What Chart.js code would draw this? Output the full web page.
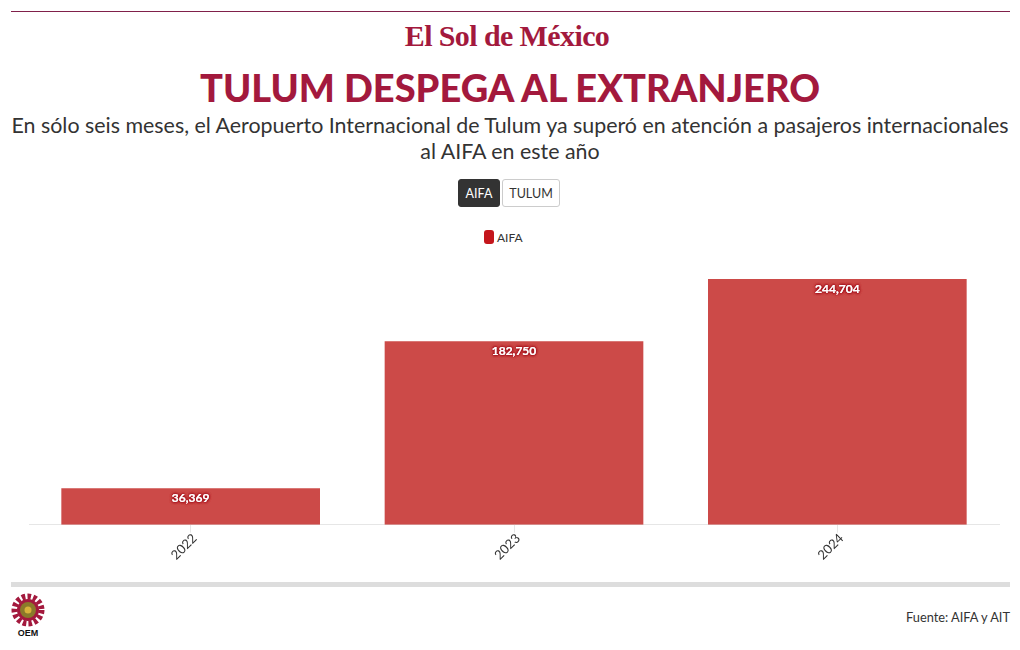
<!DOCTYPE html>
<html>
<head>
<meta charset="utf-8">
<title>Tulum despega al extranjero</title>
<script src="https://cdn.jsdelivr.net/npm/chart.js"></script>
<style>
  body { margin: 0; background: #fff; font-family: "Lato", sans-serif; color: #333; }
  #page { position: relative; width: 1020px; height: 650px; overflow: hidden; }
  #page > * { position: absolute; }
  #topline { left: 11px; top: 11px; width: 999px; height: 1px; background: #80204a; }
  #brand { left: 0; width: 1014px; top: 14px; text-align: center; font: bold 30px/44px "Liberation Serif", serif; letter-spacing: -0.6px; color: #a3193d; }
  h1 { left: 0; width: 1020px; top: 63px; margin: 0; text-align: center; font: 900 38px/48px "Lato", sans-serif; color: #a3193d; }
  #sub { left: 0; width: 1020px; top: 112px; margin: 0; text-align: center; white-space: nowrap; font: 21.4px/26px "Lato", sans-serif; color: #333; }
  .btn { top: 179px; height: 28px; box-sizing: border-box; border: 1px solid #ccc; border-radius: 3px; background: #fff; color: #333; font: 12.5px "Lato", sans-serif; padding: 0; }
  #btnA { left: 458px; width: 42px; background: #333; border-color: #333; color: #fff; }
  #btnT { left: 502px; width: 58px; }
  #legend { left: 484px; top: 230px; height: 14px; font: 12px/15px "Lato", sans-serif; color: #333; white-space: nowrap; }
  #legend i { display: inline-block; width: 10px; height: 14px; border-radius: 3px; background: #c4161c; vertical-align: top; margin-right: 3px; }
  #myChart { left: 0; top: 250px; }
  #bottomline { left: 11px; top: 582px; width: 999px; height: 5px; background: #ddd; }
  #emblem { left: 10px; top: 592px; }
  #source { right: 10px; top: 609px; font: 12.8px "Lato", sans-serif; color: #333; }
</style>
</head>
<body>
<div id="page">
  <div id="topline"></div>
  <div id="brand">El Sol de México</div>
  <h1>TULUM DESPEGA AL EXTRANJERO</h1>
  <p id="sub">En sólo seis meses, el Aeropuerto Internacional de Tulum ya superó en atención a pasajeros internacionales<br>al AIFA en este año</p>
  <button class="btn" id="btnA">AIFA</button>
  <button class="btn" id="btnT">TULUM</button>
  <div id="legend"><i></i>AIFA</div>
  <canvas id="myChart" width="1020" height="311"></canvas>
  <div id="bottomline"></div>
  <svg id="emblem" width="36" height="46" viewBox="0 0 36 46">
    <circle cx="18" cy="18" r="13.5" fill="none" stroke="#a3193d" stroke-width="6" stroke-dasharray="3.5 2.2"/>
    <circle cx="18" cy="18" r="11" fill="#a3193d"/>
    <circle cx="18" cy="18" r="8" fill="#8a7a2a"/>
    <circle cx="18" cy="18" r="3.5" fill="#d8b23a"/>
    <text x="18" y="44" text-anchor="middle" font-family="Liberation Sans" font-weight="bold" font-size="9" fill="#111">OEM</text>
  </svg>
  <div id="source">Fuente: AIFA y AIT</div>
</div>

<script>
const years = ['2022', '2023', '2024'];
const aifa = [36369, 182750, 244704];

// valor dentro de cada barra, con halo rojo
const barLabels = {
  id: 'barLabels',
  afterDatasetsDraw(chart) {
    const ctx = chart.ctx;
    ctx.save();
    ctx.font = 'bold 12px Lato';
    ctx.textAlign = 'center';
    ctx.textBaseline = 'middle';
    chart.getDatasetMeta(0).data.forEach((bar, i) => {
      const text = aifa[i].toLocaleString('en-US');
      ctx.shadowColor = '#a00d18';
      ctx.shadowBlur = 3;
      ctx.fillStyle = '#fff';
      for (let n = 0; n < 4; n++) ctx.fillText(text, bar.x, bar.y + 10);
    });
    ctx.restore();
  }
};

new Chart(document.getElementById('myChart'), {
  type: 'bar',
  data: {
    labels: years,
    datasets: [{
      label: 'AIFA',
      data: aifa,
      backgroundColor: 'rgba(193,34,32,0.82)',
      barPercentage: 0.8,
      categoryPercentage: 1
    }]
  },
  plugins: [barLabels],
  options: {
    responsive: false,
    animation: false,
    layout: { padding: { left: 29, right: 21, top: 29, bottom: 0 } },
    plugins: {
      tooltip: { enabled: false },
      legend: { display: false }
    },
    scales: {
      y: { display: false, min: 0, max: 244704 },
      x: {
        grid: { drawOnChartArea: false, offset: false, color: '#e6e6e6', tickLength: 8 },
        border: { color: '#e6e6e6' },
        ticks: { color: '#333', font: { family: 'Lato', size: 13 }, minRotation: 45, maxRotation: 45, padding: -2, labelOffset: 4 }
      }
    }
  }
});
</script>
</body>
</html>
